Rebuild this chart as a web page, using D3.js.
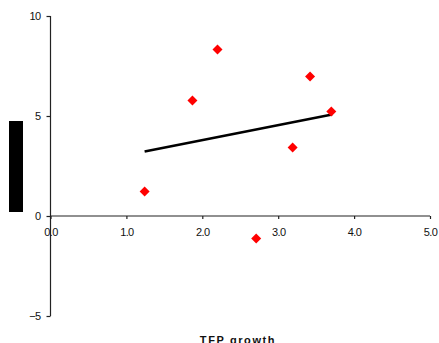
<!DOCTYPE html>
<html><head><meta charset="utf-8">
<script src="https://cdn.jsdelivr.net/npm/d3@7"></script>
<style>body{margin:0;background:#fff;} svg{display:block;}</style>
</head><body>
<script>
const xValues = [1.24, 1.87, 2.20, 2.71, 3.19, 3.42, 3.70];
const yValues = [1.22, 5.78, 8.33, -1.12, 3.43, 6.98, 5.22];
const trendX = [1.24, 3.71];
const trendY = [3.22, 5.08];
const xTicks = [0, 1, 2, 3, 4, 5];
const yTicks = [-5, 0, 5, 10];
const xTitle = "TFP growth";

const W = 439, H = 343;
const svg = d3.select("body").append("svg").attr("width", W).attr("height", H);
const x = d3.scaleLinear().domain([0, 5]).range([50.5, 430]);
const y = d3.scaleLinear().domain([-5, 10]).range([316, 16]);
const font = "'Liberation Sans', Arial, sans-serif";

// y axis
const yAxis = svg.append("g").attr("transform", `translate(${x(0)},0)`)
  .call(d3.axisLeft(y).tickValues(yTicks).tickSize(4).tickPadding(6).tickFormat(d3.format("d")));
// x axis
const xAxis = svg.append("g").attr("transform", `translate(0,${y(0)})`)
  .call(d3.axisBottom(x).tickValues(xTicks).tickSize(3).tickPadding(9).tickFormat(d3.format(".1f")));
[yAxis, xAxis].forEach(g => {
  g.select(".domain").attr("stroke", "#222").attr("stroke-width", 1.2);
  g.selectAll(".tick line").attr("stroke", "#222").attr("stroke-width", 1.2);
  g.selectAll("text").attr("font-family", font).attr("font-size", 11).attr("fill", "#111").attr("letter-spacing", "-0.6px");
});
yAxis.select(".domain").attr("d", `M-0,${y(10)}V${y(-5)}`);
xAxis.select(".domain").attr("d", `M${x(0)},0H${x(5)}`);

// black box (y title placeholder)
svg.append("rect").attr("x", 9).attr("y", 121).attr("width", 14).attr("height", 91).attr("fill", "#000");

// trend line
svg.append("line")
  .attr("x1", x(trendX[0])).attr("y1", y(trendY[0]))
  .attr("x2", x(trendX[1])).attr("y2", y(trendY[1]))
  .attr("stroke", "#000").attr("stroke-width", 2.5);

// points
const pts = xValues.map((v, i) => [v, yValues[i]]);
svg.selectAll("path.pt").data(pts).enter().append("path")
  .attr("class", "pt")
  .attr("d", "M0,-5L5,0L0,5L-5,0Z")
  .attr("transform", d => `translate(${x(d[0])},${y(d[1])})`)
  .attr("fill", "#ff0000");

// x title
svg.append("text").attr("x", 238).attr("y", 344).attr("text-anchor", "middle")
  .attr("font-family", font).attr("font-size", 11).attr("font-weight", "bold")
  .attr("letter-spacing", "1.6px").attr("fill", "#111").text(xTitle);
</script>
</body></html>
